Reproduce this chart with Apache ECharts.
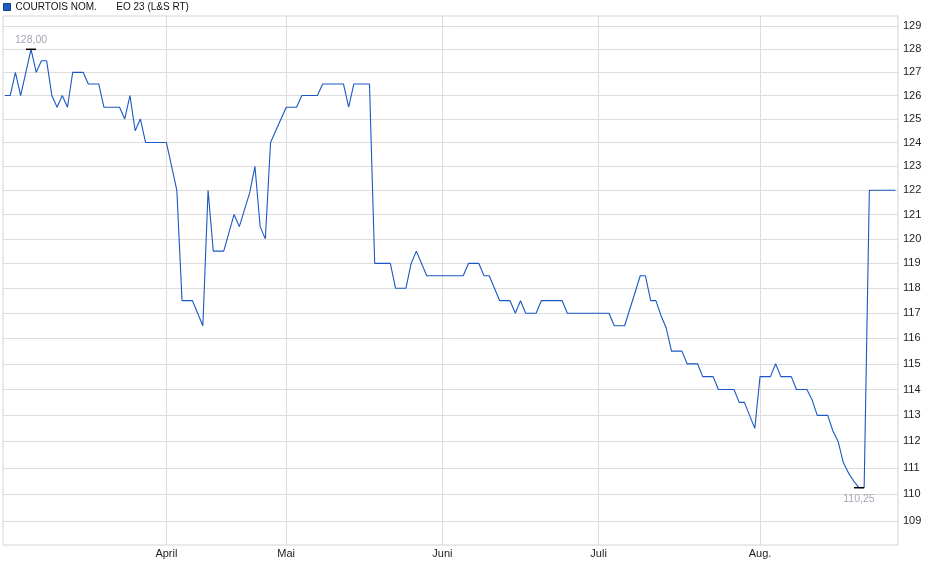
<!DOCTYPE html>
<html><head><meta charset="utf-8">
<script src="https://cdn.jsdelivr.net/npm/echarts@6/dist/echarts.min.js"></script>
<style>html,body{margin:0;padding:0;background:#fff}#c{width:940px;height:579px}</style>
</head><body><div id="c"></div>
<script>
const seriesName = 'COURTOIS NOM.       EO 23 (L&S RT)';
// trading-day index of each vertex of the price line
const dayIdx = [0,1,2,3,5,6,7,8,9,10,11,12,13,15,16,18,19,22,23,24,25,26,27,31,32,33,34,36,37,38,39,40,42,44,45,47,48,49,50,51,54,56,57,60,61,65,66,67,70,71,74,75,77,78,79,81,88,89,91,92,93,95,97,98,99,100,102,103,107,108,116,117,119,122,123,124,125,126,127,128,130,131,133,134,136,137,140,141,142,143,144,145,147,148,149,151,152,154,155,156,158,159,160,161,162,163,164,165,166,171];
const price = [126,126,127,126,128,127,127.5,127.5,126,125.5,126,125.5,127,127,126.5,126.5,125.5,125.5,125,126,124.5,125,124,124,123,122,117.5,117.5,117,116.5,122,119.5,119.5,121,120.5,121.9,123,120.5,120,124,125.5,125.5,126,126,126.5,126.5,125.5,126.5,126.5,119,119,118,118,119,119.5,118.5,118.5,119,119,118.5,118.5,117.5,117.5,117,117.5,117,117,117.5,117.5,117,117,116.5,116.5,118.5,118.5,117.5,117.5,116.9,116.4,115.5,115.5,115,115,114.5,114.5,114,114,113.5,113.5,113,112.5,114.5,114.5,115,114.5,114.5,114,114,113.6,113,113,112.4,112,111.2,110.8,110.5,110.25,110.25,122,122];
const monthIdx = [31,54,84,114,145];
const monthLabels = ['April','Mai','Juni','Juli','Aug.'];
const yTicks = [109,110,111,112,113,114,115,116,117,118,119,120,121,122,123,124,125,126,127,128,129];

const FONT = '"Liberation Sans", Arial, sans-serif';
const chart = echarts.init(document.getElementById('c'), null, {renderer:'canvas'});
const fmt = v => Number(v).toFixed(2).replace('.', ',');
chart.setOption({
  animation: false,
  textStyle: {fontFamily: FONT},
  legend: {
    left: 3, top: 2, padding: 0, itemWidth: 7, itemHeight: 7, itemGap: 5,
    data: [{name: seriesName, icon: 'rect'}],
    itemStyle: {color: '#1c5cc6', borderColor: '#123d8a', borderWidth: 1},
    textStyle: {fontSize: 10, color: '#111', fontFamily: FONT},
    selectedMode: false
  },
  grid: {left: 3, right: 42, top: 16, bottom: 34, show: true, borderColor: '#d4d4d4', borderWidth: 1},
  xAxis: {
    type: 'value', min: -0.384, max: 171.5,
    axisLine: {show: false},
    axisTick: {show: false, customValues: monthIdx},
    axisLabel: {customValues: monthIdx, formatter: v => monthLabels[monthIdx.indexOf(v)] || '',
      fontSize: 11, color: '#222', margin: 3, fontFamily: FONT},
    splitLine: {show: true, lineStyle: {color: '#dcdcdc', width: 1}}
  },
  yAxis: {
    type: 'log', min: 108.12, max: 129.46,
    axisLine: {show: false}, axisTick: {show: false}, axisLabel: {show: false}, splitLine: {show: false}
  },
  series: [
    {
      name: 'grid', type: 'line', data: [], z: 1, silent: true,
      markLine: {
        z: 1, silent: true, symbol: 'none', animation: false,
        lineStyle: {color: '#dcdcdc', width: 1, type: 'solid'},
        label: {position: 'end', formatter: p => String(p.value), color: '#222', fontSize: 11, distance: 5, fontFamily: FONT},
        emphasis: {disabled: true},
        data: yTicks.map(v => ({yAxis: v}))
      }
    },
    {
      name: seriesName, type: 'line', z: 3,
      data: dayIdx.map((d, i) => [d, price[i]]),
      showSymbol: false, symbol: 'none',
      lineStyle: {color: '#1a58c4', width: 1.1},
      itemStyle: {color: '#1a58c4'},
      markPoint: {
        symbol: 'rect', symbolSize: [10, 1.5], silent: true, z: 6,
        itemStyle: {color: '#000'},
        label: {formatter: p => fmt(p.value), color: '#a4a8b4', fontSize: 10.5, distance: 3, fontFamily: FONT},
        data: [
          {type: 'max', valueDim: 'y', label: {position: 'top', distance: 3}},
          {type: 'min', valueDim: 'y', label: {position: 'bottom', distance: 5}}
        ]
      }
    }
  ]
});
</script>
</body></html>
